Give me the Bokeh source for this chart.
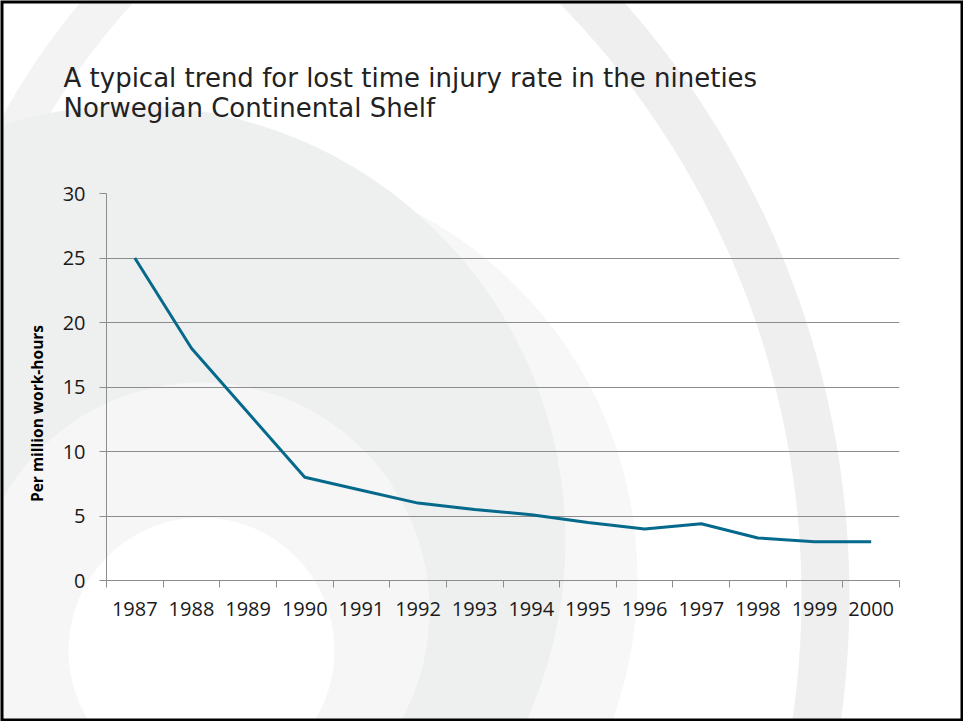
import math
from bokeh.plotting import figure
from bokeh.models import (Range1d, FixedTicker, Label, GridBox, Column, ColumnDataSource)
from bokeh.embed import file_html
from bokeh.resources import INLINE

# ---- data ----
years = ["1987", "1988", "1989", "1990", "1991", "1992", "1993",
         "1994", "1995", "1996", "1997", "1998", "1999", "2000"]
ltir = [25, 18, 13, 8, 7, 6, 5.5, 5.1, 4.5, 4.0, 4.4, 3.3, 3.0, 3.0]
y_ticks = [0, 5, 10, 15, 20, 25, 30]
title_lines = ["A typical trend for lost time injury rate in the nineties",
               "Norwegian Continental Shelf"]
y_label = "Per million work-hours"

W, H = 963, 721
GRID = "#8c8c8c"
LINE = "#05698c"
TXT = "#1a1a1a"

# ---- background slide (decorative rings, title, axis caption) ----
bg = figure(width=W, height=H, x_range=Range1d(0, W), y_range=Range1d(H, 0),
            x_axis_location=None, y_axis_location=None, toolbar_location=None,
            output_backend="svg", min_border=0)
bg.grid.visible = False
bg.background_fill_color = "white"
bg.border_fill_color = "white"
bg.outline_line_color = None

bg.annulus(x=[-47], y=[596], inner_radius=848, outer_radius=896,
           fill_color="#efefef", line_color=None)
bg.annulus(x=[640], y=[470], inner_radius=690, outer_radius=730,
           fill_color="#f3f3f3", line_color=None)
bg.circle(x=[224], y=[578], radius=413, fill_color="#f7f7f7", line_color=None)
bg.circle(x=[130], y=[540], radius=435, fill_color="#eef0ef", line_color=None)
bg.circle(x=[201], y=[610], radius=228, fill_color="#f6f6f6", line_color=None)
bg.circle(x=[201], y=[650], radius=133, fill_color="white", line_color=None)
# slide frame
bg.quad(left=[0], right=[W], top=[0], bottom=[H], fill_color=None,
        line_color="black", line_width=6)

for i, t in enumerate(title_lines):
    bg.add_layout(Label(x=63, y=77 + 30 * i, text=t, text_font="DejaVu Sans",
                        text_font_size="26px", text_color="#222222",
                        text_baseline="alphabetic"))

bg.add_layout(Label(x=36, y=413, text=y_label, angle=math.pi / 2,
                    text_align="center", text_baseline="middle",
                    text_font="Open Sans", text_font_style="bold",
                    text_font_size="15.5px", text_color="black"))

# ---- chart ----
n = len(years)
centers = [i + 0.5 for i in range(n)]       # category centres on a 0..n axis
edges = list(range(n + 1))                  # category boundaries
src = ColumnDataSource(dict(x=centers, year=years, ltir=ltir))

p = figure(width=W, height=H, x_range=Range1d(0, n), y_range=Range1d(0, 30),
           toolbar_location=None, output_backend="svg",
           min_border_left=106, min_border_right=64, min_border_top=193, min_border_bottom=141)
p.background_fill_color = None
p.border_fill_color = None
p.outline_line_color = None
p.xgrid.visible = False
p.ygrid.ticker = FixedTicker(ticks=y_ticks)
p.ygrid.grid_line_color = GRID
p.ygrid.grid_line_width = 1

p.yaxis.ticker = FixedTicker(ticks=y_ticks)
p.yaxis.axis_line_color = GRID
p.yaxis.major_tick_line_color = GRID
p.yaxis.major_tick_out = 7
p.yaxis.major_tick_in = 0
p.yaxis.minor_tick_line_color = None
p.yaxis.major_label_text_font = "Open Sans"
p.yaxis.major_label_text_font_size = "20px"
p.yaxis.major_label_text_color = TXT
p.yaxis.major_label_standoff = 14

p.xaxis.ticker = FixedTicker(ticks=centers, minor_ticks=edges)
p.xaxis.major_label_overrides = {c: y for c, y in zip(centers, years)}
p.xaxis.axis_line_color = GRID
p.xaxis.major_tick_line_color = None
p.xaxis.major_tick_out = 7
p.xaxis.major_tick_in = 0
p.xaxis.minor_tick_line_color = GRID
p.xaxis.minor_tick_out = 7
p.xaxis.minor_tick_in = 0
p.xaxis.major_label_text_font = "Open Sans"
p.xaxis.major_label_text_font_size = "20px"
p.xaxis.major_label_text_color = TXT
p.xaxis.major_label_standoff = 14

p.line(x="x", y="ltir", source=src, line_color=LINE, line_width=3, line_join="round")

layout = GridBox(children=[(Column(children=[bg]), 0, 0), (p, 0, 0)])

open("out.html", "w").write(file_html(layout, INLINE))
